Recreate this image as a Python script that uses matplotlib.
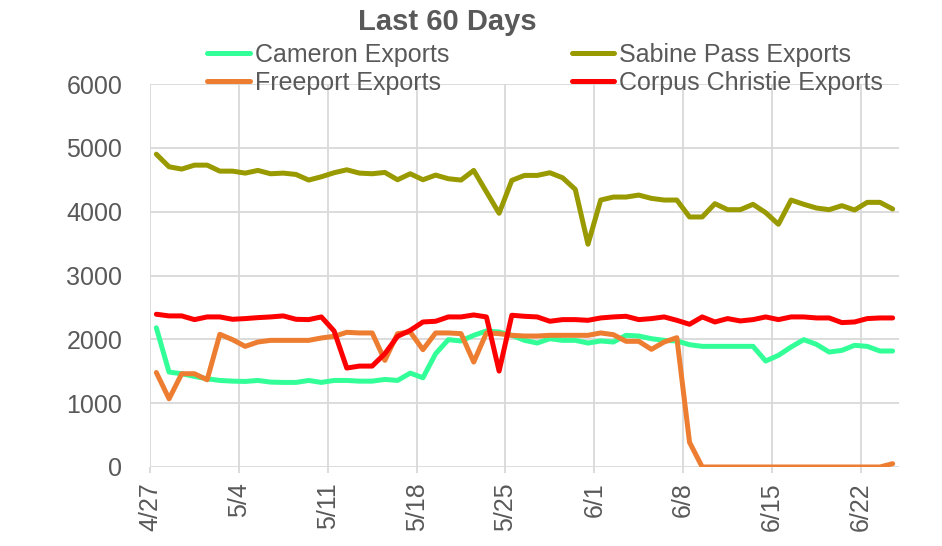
import numpy as np
import matplotlib
matplotlib.use("Agg")
import matplotlib.pyplot as plt

plt.rcParams['font.family'] = ['Liberation Sans', 'DejaVu Sans']

# daily exports, 4/27 .. 6/24
cameron = [2180, 1487, 1461, 1419, 1382, 1356, 1345, 1340, 1356, 1330,
           1325, 1325, 1356, 1325, 1356, 1356, 1345, 1345, 1372, 1356,
           1471, 1398, 1775, 1995, 1974, 2063, 2131, 2115, 2063, 1984,
           1942, 2010, 1984, 1984, 1942, 1974, 1958, 2063, 2052, 2010,
           1984, 1974, 1916, 1890, 1890, 1890, 1890, 1890, 1660, 1749,
           1880, 1995, 1921, 1801, 1827, 1906, 1890, 1817, 1817]
sabine = [4900, 4703, 4667, 4729, 4729, 4635, 4635, 4604, 4646, 4594,
          4604, 4583, 4495, 4547, 4610, 4656, 4604, 4594, 4615, 4500,
          4594, 4500, 4573, 4516, 4495, 4646, 4310, 3975, 4490, 4568,
          4568, 4610, 4531, 4349, 3490, 4182, 4229, 4229, 4260, 4208,
          4182, 4182, 3917, 3917, 4125, 4031, 4031, 4115, 3984, 3802,
          4182, 4115, 4057, 4031, 4094, 4026, 4146, 4146, 4042]
freeport = [1480, 1068, 1461, 1461, 1366, 2079, 1995, 1890, 1958, 1984,
            1984, 1984, 1984, 2021, 2047, 2110, 2100, 2100, 1670, 2089,
            2115, 1838, 2100, 2100, 2089, 1644, 2100, 2089, 2063, 2052,
            2052, 2063, 2063, 2063, 2063, 2100, 2073, 1969, 1969, 1843,
            1958, 2026, 387, 0, 0, 0, 0, 0, 0, 0,
            0, 0, 0, 0, 0, 0, 0, 0, 52]
corpus = [2393, 2367, 2367, 2309, 2351, 2351, 2314, 2325, 2340, 2351,
          2367, 2314, 2309, 2351, 2131, 1550, 1581, 1581, 1775, 2047,
          2141, 2272, 2283, 2351, 2351, 2382, 2351, 1503, 2377, 2361,
          2351, 2283, 2309, 2309, 2298, 2335, 2351, 2361, 2309, 2325,
          2351, 2298, 2236, 2351, 2272, 2325, 2288, 2309, 2351, 2309,
          2351, 2351, 2335, 2335, 2262, 2272, 2325, 2335, 2335]

tick_labels = ['4/27', '5/4', '5/11', '5/18', '5/25', '6/1', '6/8', '6/15', '6/22']

series = [
    ('Cameron Exports', cameron, '#33FF99'),
    ('Freeport Exports', freeport, '#ED7D31'),
    ('Sabine Pass Exports', sabine, '#999900'),
    ('Corpus Christie Exports', corpus, '#FF0000'),
]

txt = '#595959'
grid_c = '#D9D9D9'

fig = plt.figure(figsize=(9.42, 5.46), dpi=100)
ax = fig.add_axes([150 / 942, 1 - 467 / 546, 749 / 942, 383 / 546])

n = len(cameron)
x = np.arange(n) + 0.5
handles = []
for name, vals, col in series:
    h, = ax.plot(x, vals, color=col, lw=3.6, label=name,
                 solid_joinstyle='round', solid_capstyle='round', zorder=3)
    handles.append(h)

ax.set_xlim(0, n)
ax.set_ylim(0, 6000)
ax.set_yticks(range(0, 6001, 1000))
ax.set_xticks(range(0, 7 * len(tick_labels), 7))
ax.set_xticklabels(tick_labels, rotation=90)

ax.grid(True, color=grid_c, lw=1.3, zorder=0)
ax.set_axisbelow(True)
for s in ax.spines.values():
    s.set_visible(False)
ax.tick_params(axis='y', length=0, pad=20, labelsize=18, labelcolor=txt)
ax.tick_params(axis='x', length=4, width=1.3, color=grid_c, pad=7,
               labelsize=18, labelcolor=txt)

fig.text(447 / 942, 1 - 22 / 546, 'Last 60 Days', ha='center', va='center',
         fontsize=21, fontweight='bold', color=txt)

leg = fig.legend(handles=handles, ncol=2, loc='center',
                 bbox_to_anchor=(545 / 942, 1 - 69 / 546), frameon=False,
                 fontsize=18, handlelength=1.7, handletextpad=0.2,
                 columnspacing=4.9, labelspacing=0.15, borderpad=0)
for t in leg.get_texts():
    t.set_color(txt)

fig.savefig('out.png', dpi=100)
